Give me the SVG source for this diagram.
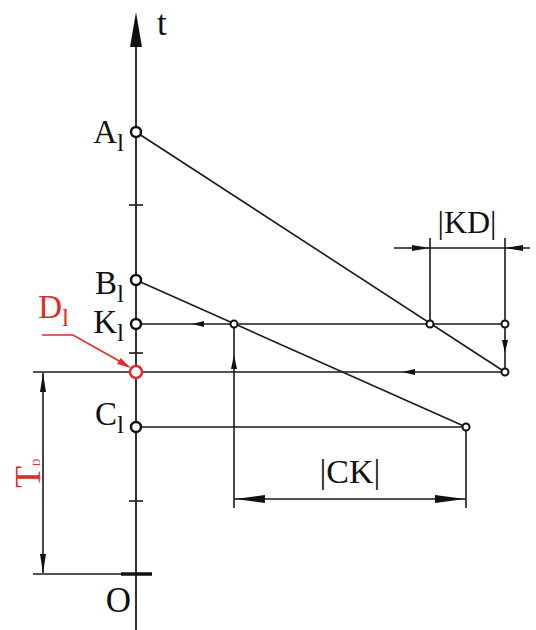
<svg xmlns="http://www.w3.org/2000/svg" width="536" height="630" viewBox="0 0 536 630">
<style>
.ln{stroke:#1a1a1a;stroke-width:1.6;fill:none}
.ax{stroke:#333;stroke-width:2;fill:none}
.pt{fill:#fff;stroke:#111;stroke-width:2.5}
.sp{fill:#fff;stroke:#111;stroke-width:2}
.ah{fill:#111}
.lb{font-family:"Liberation Serif","Times New Roman",serif;font-size:33px;fill:#111}
.sub{font-size:25px}
.red{fill:#e02b2b}
.rln{stroke:#e02b2b;stroke-width:1.5;fill:none}
</style>
<rect width="536" height="630" fill="#fff"/>
<g id="connectors">
  <line class="ax" x1="136" y1="630" x2="136" y2="40"/>
  <polygon class="ah" points="136,12 130,47 142,47"/>
  <line class="ln" x1="129" y1="205" x2="143" y2="205"/>
  <line class="ln" x1="129" y1="353" x2="143" y2="353"/>
  <line class="ln" x1="129" y1="501" x2="143" y2="501"/>
  <line stroke="#111" stroke-width="3.5" x1="121" y1="574" x2="152" y2="574"/>
  <line class="ln" x1="33" y1="574" x2="136" y2="574"/>
  <line class="ln" x1="33" y1="372" x2="505" y2="372"/>
  <polygon class="ah" points="402,372 415,369 415,375"/>
  <line class="ln" x1="136" y1="132" x2="505" y2="372"/>
  <line class="ln" x1="136" y1="280" x2="466" y2="427"/>
  <line class="ln" x1="136" y1="324" x2="505" y2="324"/>
  <polygon class="ah" points="192,324 204,321 204,327"/>
  <line class="ln" x1="136" y1="427" x2="466" y2="427"/>
  <line class="ln" x1="505" y1="238" x2="505" y2="372"/>
  <polygon class="ah" points="505,353 502,340 508,340"/>
  <line class="ln" x1="430" y1="238" x2="430" y2="324"/>
  <line class="ln" x1="234" y1="324" x2="234" y2="508"/>
  <polygon class="ah" points="234,355 231,369 237,369"/>
  <line class="ln" x1="466" y1="427" x2="466" y2="508"/>
  <line class="ln" x1="234" y1="499" x2="466" y2="499"/>
  <polygon class="ah" points="235,499 265,495 265,503"/>
  <polygon class="ah" points="465,499 435,495 435,503"/>
  <line class="ln" x1="394" y1="248" x2="530" y2="248"/>
  <polygon class="ah" points="430,248 412,245 412,251"/>
  <polygon class="ah" points="505,248 523,245 523,251"/>
  <line class="ln" x1="43" y1="373" x2="43" y2="573"/>
  <polygon class="ah" points="43,373 40,392 46,392"/>
  <polygon class="ah" points="43,573 40,554 46,554"/>
  <polyline class="rln" points="42,335 73,335 121,362"/>
  <polygon class="red" points="131,368 120.5,358.1 117.1,364.1"/>
</g>
<g id="t-label"><text class="lb" x="157" y="35" style="font-size:35px">t</text></g>
<g id="A1">
  <circle class="pt" cx="136" cy="132" r="5"/>
  <text class="lb" x="124" y="143" text-anchor="end">A<tspan class="sub" dy="8">l</tspan></text>
</g>
<g id="B1">
  <circle class="pt" cx="136" cy="280" r="5"/>
  <text class="lb" x="124" y="294" text-anchor="end">B<tspan class="sub" dy="8">l</tspan></text>
</g>
<g id="K1">
  <circle class="pt" cx="136" cy="324" r="5"/>
  <text class="lb" x="124" y="333" text-anchor="end">K<tspan class="sub" dy="8">l</tspan></text>
</g>
<g id="D1">
  <circle fill="#fff" stroke="#e02b2b" stroke-width="2.5" cx="136" cy="372" r="6"/>
  <text class="lb red" x="69" y="318" text-anchor="end">D<tspan class="sub" dy="8">l</tspan></text>
</g>
<g id="C1">
  <circle class="pt" cx="136" cy="427" r="5"/>
  <text class="lb" x="124" y="425" text-anchor="end">C<tspan class="sub" dy="8">l</tspan></text>
</g>
<g id="O">
  <text class="lb" x="131" y="612" text-anchor="end" style="font-size:35px">O</text>
</g>
<g id="P-K2"><circle class="sp" cx="234" cy="324" r="3.5"/></g>
<g id="P-K3"><circle class="sp" cx="430" cy="324" r="3.5"/></g>
<g id="P-K4"><circle class="sp" cx="505" cy="324" r="3.5"/></g>
<g id="P-D2"><circle class="sp" cx="505" cy="372" r="3.5"/></g>
<g id="P-C2"><circle class="sp" cx="466" cy="427" r="3.5"/></g>
<g id="KD-label"><text class="lb" x="467" y="233" text-anchor="middle" style="font-size:32px">|KD|</text></g>
<g id="CK-label"><text class="lb" x="350" y="483" text-anchor="middle" style="font-size:34px">|CK|</text></g>
<g id="TD-label">
  <text class="lb red" transform="translate(40,488) rotate(-90)" style="font-size:36px">T<tspan style="font-size:10px">D</tspan></text>
</g>
</svg>
